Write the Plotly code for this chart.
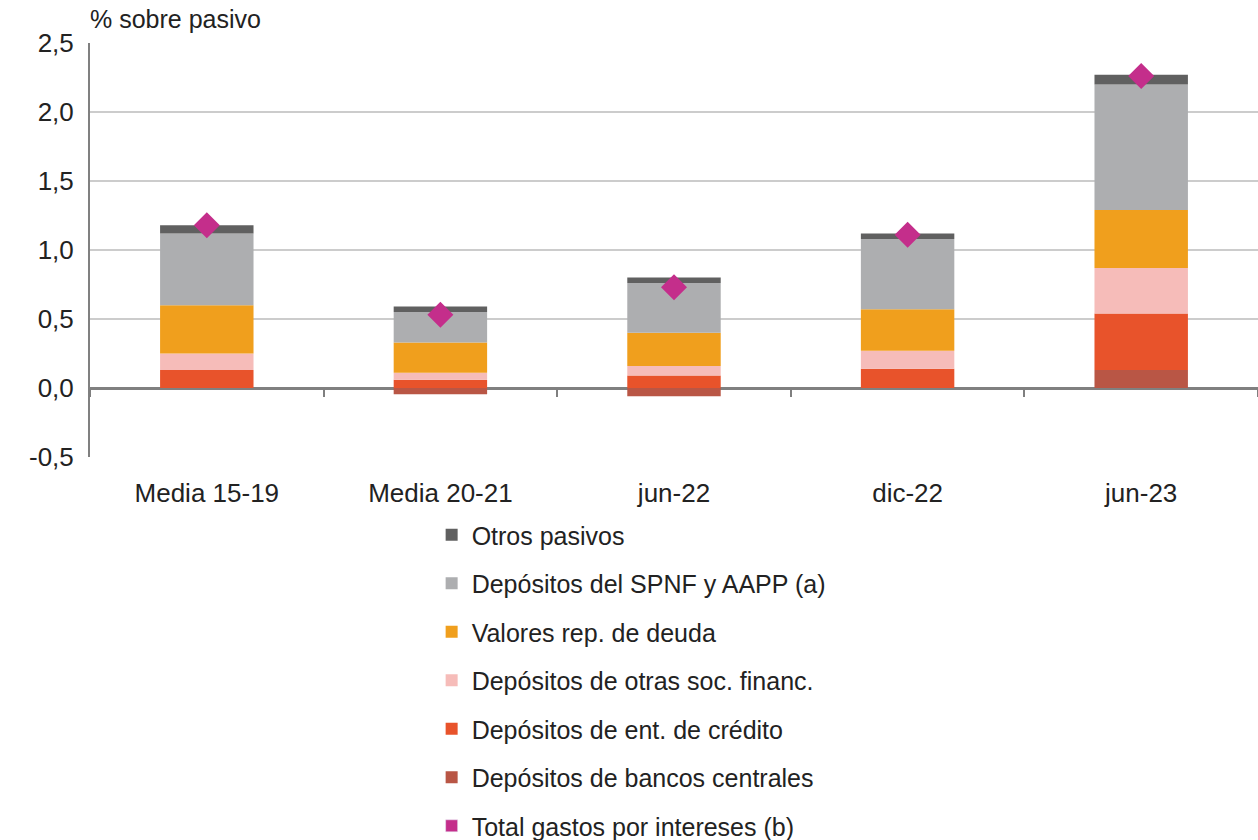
import plotly.graph_objects as go

categorias = ['Media 15-19', 'Media 20-21', 'jun-22', 'dic-22', 'jun-23']

bancos_centrales = [0.0, -0.045, -0.06, 0.0, 0.13]
ent_credito = [0.13, 0.06, 0.09, 0.14, 0.41]
otras_soc = [0.12, 0.05, 0.07, 0.13, 0.33]
valores_deuda = [0.35, 0.22, 0.24, 0.30, 0.42]
depositos_spnf = [0.52, 0.22, 0.36, 0.51, 0.91]
otros_pasivos = [0.06, 0.04, 0.04, 0.04, 0.07]
total_gastos = [1.18, 0.53, 0.73, 1.11, 2.26]

ticks_y = [-0.5, 0.0, 0.5, 1.0, 1.5, 2.0, 2.5]
etiquetas_y = ['-0,5', '0,0', '0,5', '1,0', '1,5', '2,0', '2,5']

fuente = 'Liberation Sans, Arial, sans-serif'

series = [
    ('Depósitos de bancos centrales', bancos_centrales, '#b95645', 6),
    ('Depósitos de ent. de crédito', ent_credito, '#e8532b', 5),
    ('Depósitos de otras soc. financ.', otras_soc, '#f6bcb9', 4),
    ('Valores rep. de deuda', valores_deuda, '#f09f1d', 3),
    ('Depósitos del SPNF y AAPP (a)', depositos_spnf, '#adaeb0', 2),
    ('Otros pasivos', otros_pasivos, '#606060', 1),
]

fig = go.Figure()
for nombre, valores, color, rango in series:
    fig.add_trace(go.Bar(
        name=nombre, x=categorias, y=valores,
        marker=dict(color=color, line=dict(width=0)),
        width=0.4, legendrank=rango, legendgroup=nombre,
    ))

# total de gastos por intereses (rombos)
fig.add_trace(go.Scatter(
    x=categorias, y=total_gastos, mode='markers',
    marker=dict(symbol='diamond', size=20, color='#c42e8b'),
    showlegend=False,
))
# entrada de leyenda cuadrada para el total
fig.add_trace(go.Bar(
    name='Total gastos por intereses (b)', x=categorias, y=[None] * 5,
    marker=dict(color='#c42e8b'), legendrank=7, legendgroup='total',
))
# eje auxiliar para las marcas sobre la línea de cero
fig.add_trace(go.Scatter(
    x=categorias, y=[None] * 5, xaxis='x2', showlegend=False, hoverinfo='skip',
))

fig.update_layout(
    width=1258, height=840,
    margin=dict(l=90, r=0, t=43, b=383, autoexpand=False),
    plot_bgcolor='white', paper_bgcolor='white',
    barmode='relative', separators=',.',
    font=dict(family=fuente, size=26, color='#222222'),
    showlegend=True,
    legend=dict(
        x=0.2925, y=-0.133, xanchor='left', yanchor='top',
        traceorder='grouped', tracegroupgap=13,
        font=dict(size=25, color='#222222'),
    ),
    xaxis=dict(
        type='category', categoryorder='array', categoryarray=categorias,
        showgrid=False, showline=False, ticks='', ticklabelstandoff=18,
        automargin=False,
    ),
    xaxis2=dict(
        type='category', categoryorder='array', categoryarray=categorias,
        overlaying='x', matches='x', anchor='free', position=1 / 6,
        showgrid=False, showline=False, showticklabels=False,
        ticks='outside', tickson='boundaries', ticklen=8, tickwidth=1.5,
        tickcolor='#7f7f7f', automargin=False,
    ),
    yaxis=dict(
        range=[-0.5, 2.5], tickvals=ticks_y, ticktext=etiquetas_y,
        showgrid=True, gridcolor='#cccccc', gridwidth=1.5,
        zeroline=True, zerolinecolor='#808080', zerolinewidth=3,
        showline=True, linecolor='#808080', linewidth=2,
        ticklabelstandoff=9, automargin=False,
    ),
    annotations=[dict(
        text='% sobre pasivo', xref='paper', yref='paper', x=0, y=1,
        xanchor='left', yanchor='bottom', yshift=8, xshift=-2, showarrow=False,
        font=dict(size=25, color='#222222'),
    )],
)

fig.write_html('out.html', config={'displayModeBar': False},
               post_script="document.body.style.margin='0';document.body.style.padding='0';")
